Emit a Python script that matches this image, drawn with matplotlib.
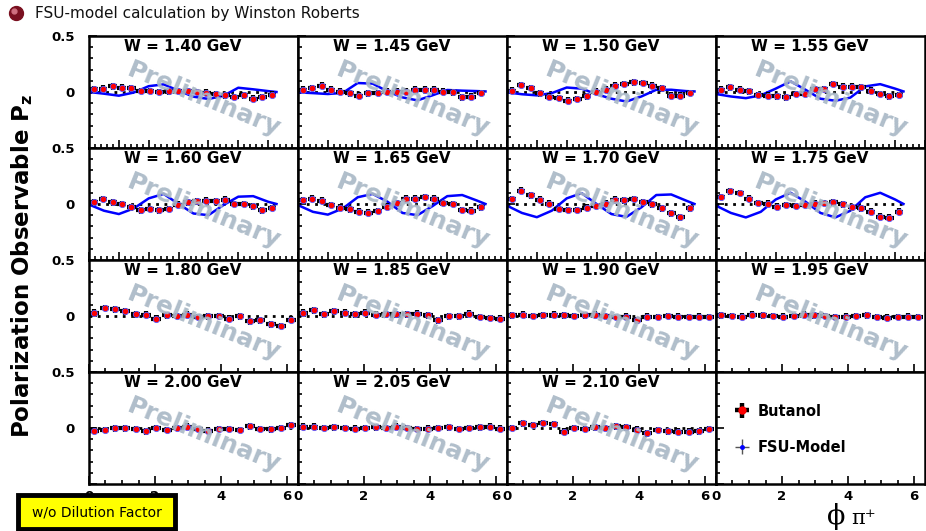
import numpy as np
import matplotlib.pyplot as plt
from matplotlib.lines import Line2D
from matplotlib.patches import Rectangle
from matplotlib.ticker import MultipleLocator

plt.rcParams['font.family'] = 'DejaVu Sans'
plt.rcParams['font.weight'] = 'bold'

# phi bin centres (20 bins over 0..2pi) and model sampling points
phi_bins = [0.16, 0.47, 0.79, 1.10, 1.41, 1.73, 2.04, 2.36, 2.67, 2.98,
            3.30, 3.61, 3.93, 4.24, 4.56, 4.87, 5.18, 5.50, 5.81, 6.13]
phi_model = [0.0, 0.5, 1.0, 1.5, 2.0, 2.5, 3.0, 3.5, 4.0, 4.5, 5.0, 5.5, 6.0, 6.28]

w_values = ['1.40', '1.45', '1.50', '1.55', '1.60', '1.65', '1.70', '1.75',
            '1.80', '1.85', '1.90', '1.95', '2.00', '2.05', '2.10']

# Butanol data, P_z per phi bin
pz_140 = [0.025, 0.030, 0.052, 0.040, 0.032, 0.008, 0.010, 0.000, 0.005, 0.010,
          0.008, 0.000, -0.005, -0.020, -0.030, -0.045, -0.030, -0.060, -0.045, -0.025]
pz_145 = [0.020, 0.036, 0.057, 0.020, 0.003, -0.012, -0.033, -0.012, -0.009, 0.003,
          0.003, 0.003, 0.020, 0.020, 0.020, 0.003, -0.003, -0.048, -0.042, -0.009]
pz_150 = [0.012, 0.063, 0.036, -0.012, -0.042, -0.054, -0.078, -0.063, -0.039, 0.003,
          0.020, 0.057, 0.072, 0.087, 0.081, 0.057, 0.033, -0.033, -0.033, -0.009]
pz_155 = [0.020, 0.042, 0.020, 0.006, -0.027, -0.033, -0.039, -0.048, -0.018, -0.018,
          0.027, 0.027, 0.072, 0.048, 0.048, 0.042, 0.012, -0.018, -0.039, -0.027]
pz_160 = [0.014, 0.044, 0.014, 0.000, -0.030, -0.057, -0.045, -0.057, -0.045, -0.006,
          0.014, 0.024, 0.030, 0.024, 0.038, 0.000, 0.000, -0.021, -0.057, -0.036]
pz_165 = [0.032, 0.047, 0.029, -0.008, -0.032, -0.047, -0.068, -0.077, -0.062, -0.023,
          0.008, 0.047, 0.047, 0.062, 0.047, 0.008, 0.000, -0.053, -0.059, -0.029]
pz_170 = [0.044, 0.119, 0.077, 0.038, 0.002, -0.044, -0.053, -0.053, -0.032, -0.017,
          0.002, 0.038, 0.032, 0.044, 0.017, -0.002, -0.038, -0.083, -0.119, -0.038]
pz_175 = [0.062, 0.113, 0.098, 0.047, 0.008, 0.002, -0.023, -0.008, -0.017, -0.008,
          0.002, 0.008, 0.014, -0.002, -0.029, -0.038, -0.068, -0.113, -0.122, -0.068]
pz_180 = [0.030, 0.072, 0.060, 0.042, 0.015, 0.012, -0.024, 0.006, 0.000, 0.012,
          -0.009, -0.003, 0.000, -0.024, -0.003, -0.048, -0.039, -0.075, -0.090, -0.033]
pz_185 = [0.030, 0.051, 0.015, 0.042, 0.030, 0.015, 0.030, 0.012, 0.015, 0.015,
          0.015, 0.021, 0.006, -0.039, -0.003, -0.003, 0.021, -0.009, -0.018, -0.024]
pz_190 = [0.005, 0.010, 0.000, 0.005, 0.010, 0.005, 0.000, 0.005, 0.010, 0.000,
          -0.010, -0.005, -0.040, -0.005, -0.010, 0.000, -0.005, -0.010, -0.005, -0.010]
pz_195 = [0.005, 0.000, -0.005, 0.010, 0.005, 0.000, -0.005, 0.000, 0.010, 0.005,
          0.000, -0.010, -0.005, 0.000, 0.005, -0.010, -0.015, -0.010, -0.005, -0.010]
pz_200 = [-0.024, -0.018, -0.003, -0.003, -0.009, -0.030, 0.000, -0.018, 0.000, 0.012,
          -0.009, -0.024, -0.009, -0.009, -0.018, 0.015, -0.009, -0.012, 0.000, 0.027]
pz_205 = [0.010, 0.010, 0.000, 0.005, 0.000, -0.005, 0.000, 0.005, 0.000, 0.010,
          0.000, -0.010, -0.005, 0.000, 0.005, -0.010, 0.000, 0.005, 0.010, -0.005]
pz_210 = [0.000, 0.042, 0.027, 0.045, 0.036, -0.033, 0.000, -0.009, 0.005, 0.000,
          0.015, 0.006, -0.015, -0.048, -0.018, -0.030, -0.033, -0.033, -0.030, -0.009]

# FSU model curves (only W = 1.40 .. 1.75)
fsu_140 = [0.000, -0.015, -0.033, -0.005, 0.052, 0.068, 0.012, -0.042, -0.062, -0.034, 0.038, 0.024, 0.008, 0.000]
fsu_145 = [-0.003, -0.010, -0.018, -0.008, 0.080, 0.075, 0.005, -0.048, -0.075, -0.030, 0.018, 0.012, 0.008, 0.005]
fsu_150 = [-0.003, -0.020, -0.030, -0.010, 0.040, 0.030, -0.020, -0.060, -0.085, -0.040, 0.020, 0.020, 0.008, 0.005]
fsu_155 = [-0.018, -0.040, -0.055, -0.030, 0.030, 0.095, 0.020, -0.060, -0.078, -0.050, 0.050, 0.070, 0.030, 0.005]
fsu_160 = [-0.005, -0.060, -0.090, -0.040, 0.050, 0.090, 0.000, -0.085, -0.100, -0.010, 0.065, 0.070, 0.020, 0.000]
fsu_165 = [-0.010, -0.070, -0.095, -0.040, 0.060, 0.090, 0.020, -0.080, -0.100, -0.020, 0.070, 0.080, 0.030, 0.000]
fsu_170 = [-0.015, -0.080, -0.118, -0.060, 0.050, 0.097, 0.000, -0.090, -0.115, -0.030, 0.080, 0.085, 0.030, 0.000]
fsu_175 = [-0.015, -0.080, -0.120, -0.070, 0.040, 0.100, 0.020, -0.080, -0.120, -0.060, 0.060, 0.100, 0.040, 0.000]

data_series = [pz_140, pz_145, pz_150, pz_155, pz_160, pz_165, pz_170, pz_175,
               pz_180, pz_185, pz_190, pz_195, pz_200, pz_205, pz_210]
model_series = [fsu_140, fsu_145, fsu_150, fsu_155, fsu_160, fsu_165, fsu_170, fsu_175]

fig, axes = plt.subplots(4, 4, figsize=(9.26, 5.31), dpi=100)
fig.subplots_adjust(left=0.0961, right=0.9989, top=0.9322, bottom=0.0886,
                    wspace=0, hspace=0)

for i, ax in enumerate(axes.flat):
    row, col = divmod(i, 4)

    # top two rows were drawn with a wider phi axis
    if row < 2:
        ax.set_xlim(0, 7.0)
        ax.set_xticks(range(8))
        ax.xaxis.set_minor_locator(MultipleLocator(0.2))
    else:
        ax.set_xlim(0, 6.33)
        ax.set_xticks([0, 2, 4, 6])
        ax.xaxis.set_minor_locator(MultipleLocator(0.5))
    ax.set_ylim(-0.5, 0.5)
    ax.set_yticks([-0.5, 0, 0.5])
    ax.yaxis.set_minor_locator(MultipleLocator(0.1))

    ax.tick_params(which='both', direction='in', top=False, right=False,
                   labelsize=9.5, width=1.2)
    ax.tick_params(which='major', length=6)
    ax.tick_params(which='minor', length=3)
    ax.tick_params(axis='y', pad=10)
    ax.tick_params(axis='x', pad=4)

    if col == 0:
        ax.set_yticklabels(['', '0', '0.5'])
    else:
        ax.tick_params(labelleft=False)
    if row == 3:
        ax.set_xticklabels(['0', '2', '4', '6'])
    else:
        ax.tick_params(labelbottom=False)

    for sp in ax.spines.values():
        sp.set_linewidth(1.8)

    if i == 15:
        # legend pad
        h_but = ax.errorbar([np.nan], [np.nan], xerr=[0.1], yerr=[0.1], fmt='o',
                            ms=5, mfc='red', mec='red', ecolor='black',
                            elinewidth=3.2, capsize=0)
        h_fsu = ax.errorbar([np.nan], [np.nan], xerr=[0.1], yerr=[0.1], fmt='o',
                            ms=2.5, mfc='blue', mec='blue', ecolor='#555555',
                            elinewidth=1.0, capsize=0)
        ax.legend([h_but, h_fsu], ['Butanol', 'FSU-Model'], loc='center left',
                  bbox_to_anchor=(0.08, 0.49), frameon=False, borderaxespad=0,
                  borderpad=0, handlelength=1.3, handletextpad=0.4,
                  labelspacing=1.45, prop={'weight': 'bold', 'size': 10.5})
        continue

    ax.hlines(0, 0, 2 * np.pi, colors='black', linestyles=(0, (1, 2.0)),
              linewidth=2.0, zorder=2)
    if i < len(model_series):
        ax.plot(phi_model, model_series[i], color='#0000ff', lw=1.8, zorder=2.5)
    ax.errorbar(phi_bins, data_series[i], xerr=0.15, yerr=0.03, fmt='o', ms=4.5,
                mfc='red', mec='#5a5aff', mew=0.6, ecolor='black',
                elinewidth=3.0, capsize=0, zorder=3)

    ax.text(0.55, 0.43, 'Preliminary', transform=ax.transAxes, rotation=-22,
            ha='center', va='center', fontsize=18, fontweight='bold',
            color='#a9b8c6', alpha=0.92, zorder=4)
    ax.text(0.45, 0.975, f'W = {w_values[i]} GeV', transform=ax.transAxes,
            ha='center', va='top', fontsize=11, fontweight='bold', zorder=5)

# header with the shaded ball marker
fig.add_artist(Line2D([0.0173], [0.9755], marker='o', markersize=10,
                      color='#7a1020', transform=fig.transFigure))
fig.add_artist(Line2D([0.0155], [0.9795], marker='o', markersize=3.5,
                      color='#d07080', transform=fig.transFigure))
fig.text(0.0378, 0.9746, 'FSU-model calculation by Winston Roberts',
         fontsize=11, fontweight='normal', color='#111111', ha='left', va='center')

fig.text(0.024, 0.50, r'Polarization Observable P$_{\mathbf{z}}$', rotation=90,
         fontsize=16.5, fontweight='bold', ha='center', va='center')

# x axis title: upright phi with pi+ subscript
fig.text(827 / 926, 0.014, '\u03d5', fontsize=19.5, family='DejaVu Serif',
         fontweight='normal', ha='left', va='baseline')
fig.text(851 / 926, 0.014, '\u03c0\u207a', fontsize=15, family='DejaVu Serif',
         fontweight='normal', ha='left', va='baseline')

# yellow note box
fig.add_artist(Rectangle((18 / 926, 2 / 531), 157 / 926, 34 / 531,
                         transform=fig.transFigure, facecolor='#ffff00',
                         edgecolor='black', lw=3.5, zorder=10))
fig.text(96.5 / 926, 18 / 531, 'w/o Dilution Factor', fontsize=10,
         fontweight='normal', ha='center', va='center', zorder=11)

plt.savefig('out.png', dpi=100)
